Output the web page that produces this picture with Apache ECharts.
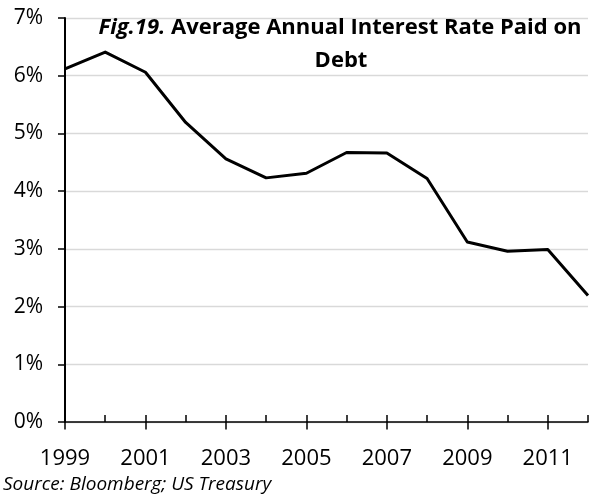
<!DOCTYPE html>
<html>
<head>
<meta charset="utf-8">
<script src="https://cdn.jsdelivr.net/npm/echarts@6/dist/echarts.min.js"></script>
<style>
  html, body { margin: 0; padding: 0; background: #fff; }
  #chart { width: 590px; height: 496px; }
</style>
</head>
<body>
<div id="chart"></div>
<script>
// Average annual interest rate paid on US federal debt, percent
const years = ['1999', '2000', '2001', '2002', '2003', '2004', '2005',
               '2006', '2007', '2008', '2009', '2010', '2011', '2012'];
const ratePct = [6.12, 6.41, 6.06, 5.19, 4.56, 4.23, 4.31,
                 4.67, 4.66, 4.22, 3.12, 2.96, 2.99, 2.19];
const yTicks = [0, 1, 2, 3, 4, 5, 6, 7];

const FONT = '"Open Sans", "Noto Sans", sans-serif';

const chart = echarts.init(document.getElementById('chart'), null, { renderer: 'canvas' });

chart.setOption({
  animation: false,
  backgroundColor: '#ffffff',
  grid: { left: 65, right: 2, top: 18, bottom: 74 },
  xAxis: [
    {
      type: 'category',
      position: 'bottom',
      data: years,
      boundaryGap: false,
      axisLine: { show: true, lineStyle: { color: '#000', width: 1.5 } },
      axisTick: { show: true, inside: true, length: 7, interval: 0,
                  lineStyle: { color: '#000', width: 1.5 } },
      axisLabel: { interval: 1, margin: 26, color: '#000',
                   fontFamily: FONT, fontSize: 22 },
      splitLine: { show: false }
    },
    {
      // longer ticks under the labelled years
      type: 'category',
      position: 'bottom',
      data: years,
      boundaryGap: false,
      axisLine: { show: false },
      axisTick: { show: true, inside: false, length: 7.5, interval: 1,
                  lineStyle: { color: '#000', width: 1.5 } },
      axisLabel: { show: false },
      splitLine: { show: false }
    }
  ],
  yAxis: {
    type: 'value',
    min: yTicks[0],
    max: yTicks[yTicks.length - 1],
    interval: 1,
    axisLine: { show: true, lineStyle: { color: '#000', width: 2 } },
    axisTick: { show: true, length: 7, lineStyle: { color: '#000', width: 1.5 } },
    axisLabel: { margin: 22, color: '#000', fontFamily: FONT, fontSize: 21,
                 formatter: v => v + '%' },
    splitLine: { show: true, lineStyle: { color: '#d9d9d9', width: 1.3 } }
  },
  series: [{
    type: 'line',
    xAxisIndex: 0,
    data: ratePct,
    symbol: 'none',
    lineStyle: { color: '#000', width: 3, join: 'round' },
    z: 5
  }],
  graphic: [
    {
      type: 'text',
      x: 340, y: 28,
      z: 10,
      style: {
        text: '{f|Fig.19.} {t|Average Annual Interest Rate Paid on}',
        align: 'center',
        verticalAlign: 'middle',
        rich: {
          f: { fontFamily: FONT, fontSize: 22, fontWeight: 'bold', fontStyle: 'italic', fill: '#000' },
          t: { fontFamily: FONT, fontSize: 22, fontWeight: 'bold', fill: '#000' }
        },
        fontFamily: FONT, fontSize: 22, fontWeight: 'bold', fill: '#000'
      }
    },
    {
      type: 'text',
      x: 341, y: 61,
      z: 10,
      style: {
        text: 'Debt',
        align: 'center',
        verticalAlign: 'middle',
        fontFamily: FONT, fontSize: 22, fontWeight: 'bold', fill: '#000'
      }
    },
    {
      type: 'text',
      x: 3, y: 485,
      style: {
        text: 'Source: Bloomberg; US Treasury',
        align: 'left',
        verticalAlign: 'middle',
        fontFamily: FONT, fontSize: 19, fontStyle: 'italic', fill: '#000'
      }
    }
  ]
});
</script>
</body>
</html>
